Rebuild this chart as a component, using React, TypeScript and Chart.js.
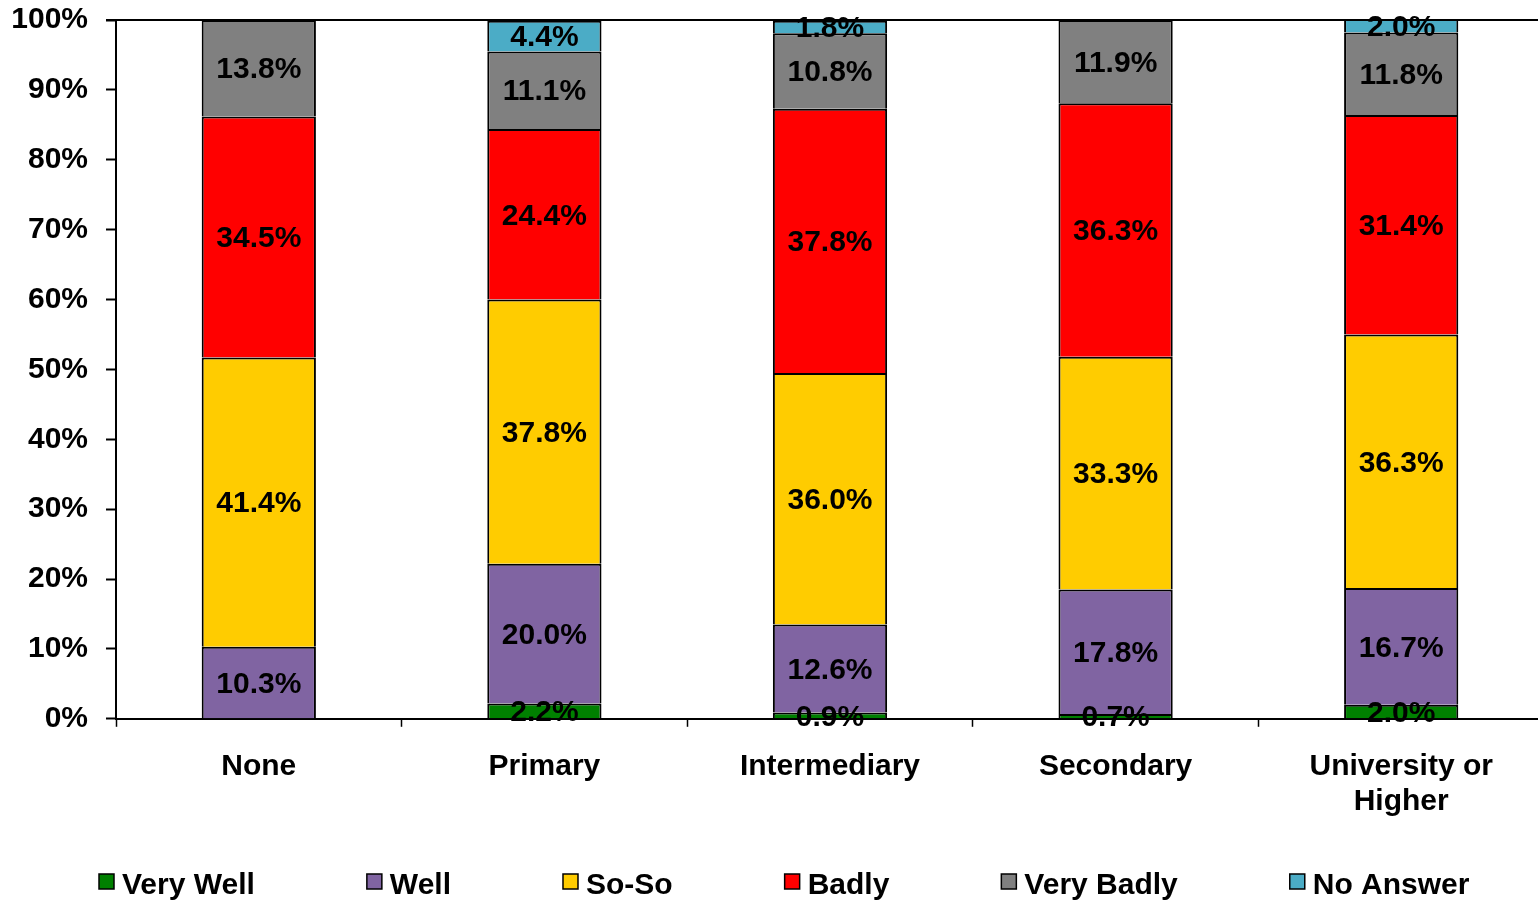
import React, { useEffect, useRef } from "react";
import { Chart, registerables } from "chart.js";

Chart.register(...registerables);

const categories: (string | string[])[] = ["None", "Primary", "Intermediary", "Secondary", ["University or", "Higher"]];
const seriesNames = ["Very Well", "Well", "So-So", "Badly", "Very Badly", "No Answer"];
const seriesColors = ["#008000", "#8064A2", "#FFCC00", "#FF0000", "#808080", "#4BACC6"];
const veryWell = [0, 2.2, 0.9, 0.7, 2.0];
const well = [10.3, 20.0, 12.6, 17.8, 16.7];
const soSo = [41.4, 37.8, 36.0, 33.3, 36.3];
const badly = [34.5, 24.4, 37.8, 36.3, 31.4];
const veryBadly = [13.8, 11.1, 10.8, 11.9, 11.8];
const noAnswer = [0, 4.4, 1.8, 0, 2.0];
const seriesValues = [veryWell, well, soSo, badly, veryBadly, noAnswer];
const yTicks = [0, 10, 20, 30, 40, 50, 60, 70, 80, 90, 100];

const FONT = "'Liberation Sans', Arial, sans-serif";
const FS = 30;

const labelPlugin = {
  id: "segLabels",
  afterDatasetsDraw(chart: any) {
    const ctx = chart.ctx;
    ctx.save();
    ctx.font = `bold ${FS}px ${FONT}`;
    ctx.fillStyle = "#000";
    ctx.textAlign = "center";
    ctx.textBaseline = "middle";
    chart.data.datasets.forEach((ds: any, di: number) => {
      const meta = chart.getDatasetMeta(di);
      meta.data.forEach((el: any, i: number) => {
        const v = ds.data[i];
        if (!v) return;
        const p = el.getProps(["x", "y", "base"], true);
        ctx.fillText(v.toFixed(1) + "%", p.x, (p.y + p.base) / 2 + 2);
      });
    });
    ctx.restore();
  },
};

const legendPlugin = {
  id: "customLegend",
  afterDraw(chart: any) {
    const ctx = chart.ctx;
    ctx.save();
    ctx.font = `bold ${FS}px ${FONT}`;
    ctx.textBaseline = "middle";
    ctx.textAlign = "left";
    const box = 15;
    const gapText = 8;
    const gapItem = 112;
    const widths = chart.data.datasets.map((d: any) => box + gapText + ctx.measureText(d.label).width);
    let x = 99;
    const yTop = 874;
    chart.data.datasets.forEach((d: any, i: number) => {
      ctx.fillStyle = d.backgroundColor;
      ctx.fillRect(x, yTop, box, box);
      ctx.strokeStyle = "#000";
      ctx.lineWidth = 1.5;
      ctx.strokeRect(x, yTop, box, box);
      ctx.fillStyle = "#000";
      ctx.fillText(d.label, x + box + gapText, yTop + box / 2 + 4);
      x += widths[i] + gapItem;
    });
    ctx.restore();
  },
};

const topBorderPlugin = {
  id: "topBorder",
  afterDraw(chart: any) {
    const { ctx, chartArea } = chart;
    ctx.save();
    ctx.strokeStyle = "#000";
    ctx.lineWidth = 2;
    ctx.beginPath();
    ctx.moveTo(chartArea.left - 10, chartArea.top);
    ctx.lineTo(chartArea.right, chartArea.top);
    ctx.stroke();
    ctx.restore();
  },
};

export default function App() {
  const ref = useRef<HTMLCanvasElement>(null);
  useEffect(() => {
    document.body.style.margin = "0";
    const chart = new Chart(ref.current!, {
      type: "bar",
      data: {
        labels: categories,
        datasets: seriesNames.map((name, i) => ({
          label: name,
          data: seriesValues[i],
          backgroundColor: seriesColors[i],
          borderColor: "#000",
          borderWidth: 2,
          barPercentage: 0.4,
          categoryPercentage: 1,
        })),
      },
      options: {
        responsive: false,
        animation: false,
        layout: { padding: { left: 0, right: 0, top: 20, bottom: 60 } },
        plugins: { legend: { display: false }, tooltip: { enabled: false } },
        scales: {
          x: {
            stacked: true,
            grid: { offset: true, color: "transparent", tickColor: "#000", tickLength: 8, tickWidth: 1.5 },
            border: { display: true, color: "#000", width: 2 },
            ticks: { color: "#000", padding: 22, font: { family: FONT, size: FS, weight: "bold", lineHeight: 1.17 } },
            afterFit: (axis: any) => {
              axis.paddingLeft = 0;
              axis.paddingRight = 0;
            },
          },
          y: {
            stacked: true,
            min: 0,
            max: 100,
            afterBuildTicks: (axis: any) => {
              axis.ticks = yTicks.map((v) => ({ value: v }));
            },
            afterFit: (axis: any) => {
              axis.width = 116;
              axis.paddingTop = 0;
              axis.paddingBottom = 0;
            },
            grid: { color: "transparent", tickColor: "#000", tickLength: 10, tickWidth: 2 },
            border: { display: true, color: "#000", width: 2 },
            ticks: {
              color: "#000",
              padding: 18,
              font: { family: FONT, size: FS, weight: "bold" },
              callback: (v: any) => v + "%",
            },
          },
        },
      },
      plugins: [labelPlugin, legendPlugin, topBorderPlugin],
    } as any);
    return () => chart.destroy();
  }, []);
  return (
    <div style={{ width: 1538, height: 901, background: "#fff", overflow: "hidden" }}>
      <canvas ref={ref} width={1544} height={901} style={{ display: "block" }} />
    </div>
  );
}
